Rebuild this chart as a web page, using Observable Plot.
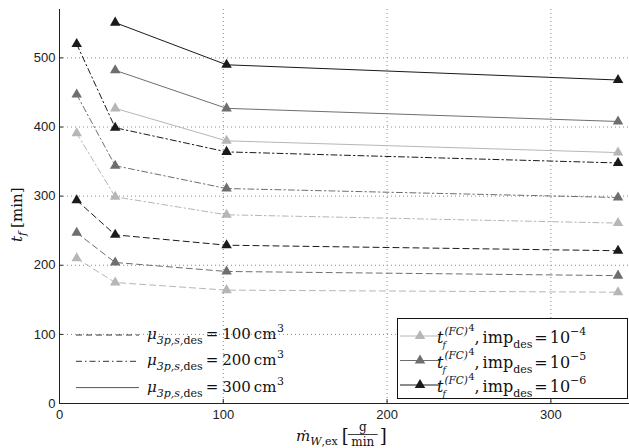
<!DOCTYPE html>
<html><head><meta charset="utf-8">
<script src="https://cdn.jsdelivr.net/npm/d3@7"></script>
<script src="https://cdn.jsdelivr.net/npm/@observablehq/plot@0.6"></script>
<style>
body{margin:0;background:#fff}
#chart{position:relative;width:629px;height:448px}
</style>
</head><body><div id="chart"></div>
<script>
// ---- data ----
const xValues = [10.5, 34, 102, 341];
const xTicks = [0, 100, 200, 300];
const yTicks = [0, 100, 200, 300, 400, 500];
const impLevels = ["1e-4", "1e-5", "1e-6"];
const volumes = [100, 200, 300];
// volume 100 cm3 (dashed)
const v100_imp4 = [210, 175, 164, 161];
const v100_imp5 = [247, 204, 191, 185];
const v100_imp6 = [294, 244, 229, 221];
// volume 200 cm3 (dash-dot)
const v200_imp4 = [391, 299, 273, 261];
const v200_imp5 = [447, 344, 311, 298];
const v200_imp6 = [520, 399, 364, 348];
// volume 300 cm3 (solid)
const v300_imp4 = [null, 427, 380, 363];
const v300_imp5 = [null, 482, 427, 408];
const v300_imp6 = [null, 551, 490, 468];

const seriesTable = [
  [100, "1e-4", v100_imp4], [100, "1e-5", v100_imp5], [100, "1e-6", v100_imp6],
  [200, "1e-4", v200_imp4], [200, "1e-5", v200_imp5], [200, "1e-6", v200_imp6],
  [300, "1e-4", v300_imp4], [300, "1e-5", v300_imp5], [300, "1e-6", v300_imp6]
];
const rows = [];
for (const [vol, imp, vals] of seriesTable) {
  vals.forEach((v, i) => { if (v != null) rows.push({x: xValues[i], y: v, vol, imp, key: vol + "_" + imp}); });
}

// ---- styles ----
const greys = ["#b6b6b6", "#6e6e6e", "#1a1a1a"];
const dashFor = {100: "6,4", 200: "6,3,1.5,3", 300: null};
const serif = "'DejaVu Serif', serif";
const sans = "'Liberation Sans', Arial, sans-serif";

const lineMarks = volumes.map(vol => Plot.line(rows.filter(d => d.vol === vol), {
  x: "x", y: "y", z: "key", stroke: "imp", strokeWidth: 1,
  strokeDasharray: dashFor[vol] || undefined
}));

const chart = Plot.plot({
  width: 629, height: 448,
  marginLeft: 59, marginRight: 0, marginTop: 9, marginBottom: 45,
  style: {fontFamily: sans, fontSize: "13px", color: "#222", background: "#fff"},
  x: {domain: [0, 348], label: null},
  y: {domain: [0, 570], label: null},
  color: {domain: impLevels, range: greys},
  marks: [
    Plot.gridX(xTicks.slice(1), {stroke: "#8a8a8a", strokeOpacity: 1, strokeDasharray: "1,3"}),
    Plot.gridY(yTicks.slice(1), {stroke: "#8a8a8a", strokeOpacity: 1, strokeDasharray: "1,3"}),
    ...lineMarks,
    Plot.dot(rows, {x: "x", y: "y", symbol: "triangle", fill: "imp", r: 3.9}),
    Plot.ruleX([0], {stroke: "#222"}),
    Plot.ruleY([0], {stroke: "#222"}),
    Plot.axisX({ticks: xTicks, tickSize: -4, tickPadding: 10, label: null, fontSize: 13, stroke: "#222"}),
    Plot.axisY({ticks: yTicks, tickSize: -4, tickPadding: 8, label: null, fontSize: 13, stroke: "#222"})
  ]
});
document.getElementById("chart").appendChild(chart);

// ---- annotations / legends ----
const svg = d3.select(chart);
function txt(g, x, y, s, o = {}) {
  const t = g.append("text").attr("x", x).attr("y", y).text(s)
    .attr("font-family", o.family || serif).attr("font-size", o.size || 15)
    .attr("fill", "#111").attr("text-anchor", o.anchor || "start");
  if (o.italic) t.attr("font-style", "italic");
  return t;
}
// place pieces one after another on a baseline; each piece: [text, {size, italic, dy, gap}]
function chain(g, x, y, pieces) {
  let cx = x;
  for (const [s, o] of pieces) {
    cx += (o && o.gap) || 0;
    const t = txt(g, cx, y + ((o && o.dy) || 0), s, o || {});
    cx += t.node().getComputedTextLength();
  }
  return cx;
}

// left legend (line styles)
const legL = svg.append("g");
volumes.forEach((vol, i) => {
  const ly = 335 + i * 26.3;
  legL.append("line").attr("x1", 76).attr("x2", 139).attr("y1", ly).attr("y2", ly)
    .attr("stroke", i === 2 ? "#555" : "#333").attr("stroke-width", 1)
    .attr("stroke-dasharray", dashFor[vol] || null);
  const by = ly + 4;
  chain(legL, 147, by, [
    ["μ", {italic: true, size: 15}],
    ["3p,s,", {italic: true, size: 11, dy: 5}],
    ["des", {size: 11, dy: 5}],
    ["=", {size: 15, gap: 3}],
    [String(vol), {size: 15, gap: 4}],
    ["cm", {size: 15, gap: 3}],
    ["3", {size: 11, dy: -7, gap: 0.5}]
  ]);
});

// right legend (imp levels)
const legR = svg.append("g");
legR.append("rect").attr("x", 397.5).attr("y", 318.5).attr("width", 230).attr("height", 80)
  .attr("fill", "#fff").attr("stroke", "#111").attr("stroke-width", 1);
const expo = ["−4", "−5", "−6"];
impLevels.forEach((imp, i) => {
  const ly = 336 + i * 24.5;
  legR.append("line").attr("x1", 400).attr("x2", 440).attr("y1", ly).attr("y2", ly)
    .attr("stroke", greys[i]).attr("stroke-width", 1);
  legR.append("path").attr("transform", `translate(420,${ly})`)
    .attr("d", d3.symbol(d3.symbolTriangle, Math.PI * 3.9 * 3.9)()).attr("fill", greys[i]);
  const by = ly + 7;
  const tEnd = chain(legR, 437, by, [["t", {italic: true, size: 16}]]);
  chain(legR, tEnd - 1, by + 5, [["f", {italic: true, size: 9}]]);
  const supEnd = chain(legR, tEnd + 1, by - 8.5, [
    ["(FC)", {italic: true, size: 10.5}],
    ["4", {size: 9.5, dy: -4, gap: 0.5}]
  ]);
  chain(legR, supEnd, by, [
    [",", {size: 16}],
    ["imp", {size: 16, gap: 3}],
    ["des", {size: 11, dy: 5}],
    ["=", {size: 16, gap: 2}],
    ["10", {size: 16, gap: 2}],
    [expo[i], {size: 11, dy: -8}]
  ]);
});

// x axis label
const xl = svg.append("g");
const xEnd = chain(xl, 296, 441, [
  ["ṁ", {italic: true, size: 15}],
  ["W", {italic: true, size: 11, dy: 4}],
  [",ex", {size: 11, dy: 4}]
]);
txt(xl, xEnd + 4, 442, "[", {size: 18});
txt(xl, xEnd + 25, 431, "g", {size: 12, anchor: "middle"});
xl.append("line").attr("x1", xEnd + 10).attr("x2", xEnd + 40).attr("y1", 434.5).attr("y2", 434.5).attr("stroke", "#111").attr("stroke-width", 0.8);
txt(xl, xEnd + 25, 446, "min", {size: 12, anchor: "middle"});
txt(xl, xEnd + 42, 442, "]", {size: 18});

// y axis label
const yl = svg.append("g").attr("transform", "translate(22,242) rotate(-90)");
chain(yl, 0, 0, [
  ["t", {italic: true, size: 15}],
  ["f", {italic: true, size: 11, dy: 4}],
  ["[min]", {size: 15, gap: 4}]
]);
</script>
</body></html>
